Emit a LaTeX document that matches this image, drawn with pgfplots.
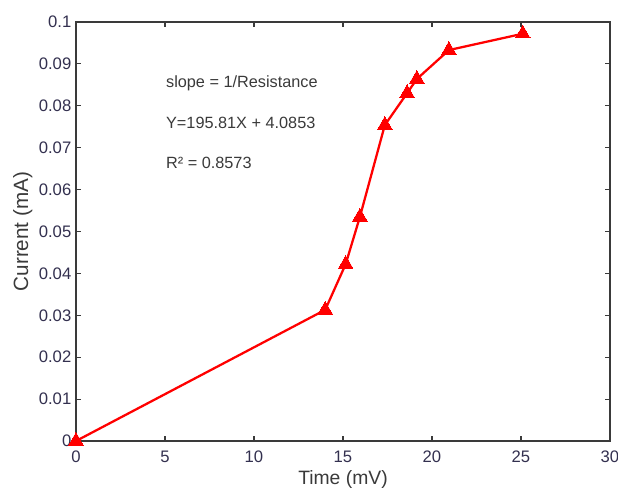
\documentclass[border=0pt]{standalone}
\usepackage{pgfplots}
\pgfplotsset{compat=1.18}
\usepackage{fontspec}
\setmainfont{Liberation Sans}
\definecolor{axgray}{HTML}{3A3A3A}
\definecolor{ticktext}{HTML}{33304F}
\begin{document}
\begin{tikzpicture}
\begin{axis}[
  name=ax,
  scale only axis,
  width=400.5pt, height=314.25pt,
  xmin=0, xmax=30, ymin=0, ymax=0.1,
  xtick={0,5,...,30},
  ytick={0,0.01,...,0.1},
  yticklabels={0,0.01,0.02,0.03,0.04,0.05,0.06,0.07,0.08,0.09,0.1},
  tick align=inside,
  major tick length=4pt,
  tick style={axgray, line width=0.8pt},
  axis line style={axgray, line width=1pt},
  ticklabel style={font=\fontsize{12.5}{14}\selectfont, text=ticktext},
  xticklabel style={yshift=-4pt},
  /pgf/number format/assume math mode=true,
  xlabel={Time (mV)},
  ylabel={Current (mA)},
  label style={text=axgray},
  xlabel style={font=\fontsize{14.5}{16}\selectfont, yshift=1.5pt},
  ylabel style={font=\fontsize{15.5}{17}\selectfont, yshift=-2pt},
  clip=false,
]
\addplot[red, line width=1.7pt, mark=triangle*, mark size=6.3pt, mark options={solid, fill=red, draw=red, line width=0pt}]
coordinates {
(0,0)
(14.0,0.0313)
(15.15,0.0422)
(15.95,0.0535)
(17.35,0.0754)
(18.6,0.0830)
(19.15,0.0864)
(20.95,0.0933)
(25.1,0.0972)
};
\node[anchor=west, font=\fontsize{12.2}{14}\selectfont, text=axgray] at (axis cs:4.8,0.0854) {slope = 1/Resistance};
\node[anchor=west, font=\fontsize{12.2}{14}\selectfont, text=axgray] at (axis cs:4.8,0.0759) {Y=195.81X + 4.0853};
\node[anchor=west, font=\fontsize{12.2}{14}\selectfont, text=axgray] at (axis cs:4.8,0.0663) {R² = 0.8573};
\end{axis}
\pgfresetboundingbox
\useasboundingbox ([xshift=-57pt,yshift=16.5pt]ax.north west) rectangle ([xshift=6pt,yshift=-36pt]ax.south east);
\end{tikzpicture}
\end{document}
